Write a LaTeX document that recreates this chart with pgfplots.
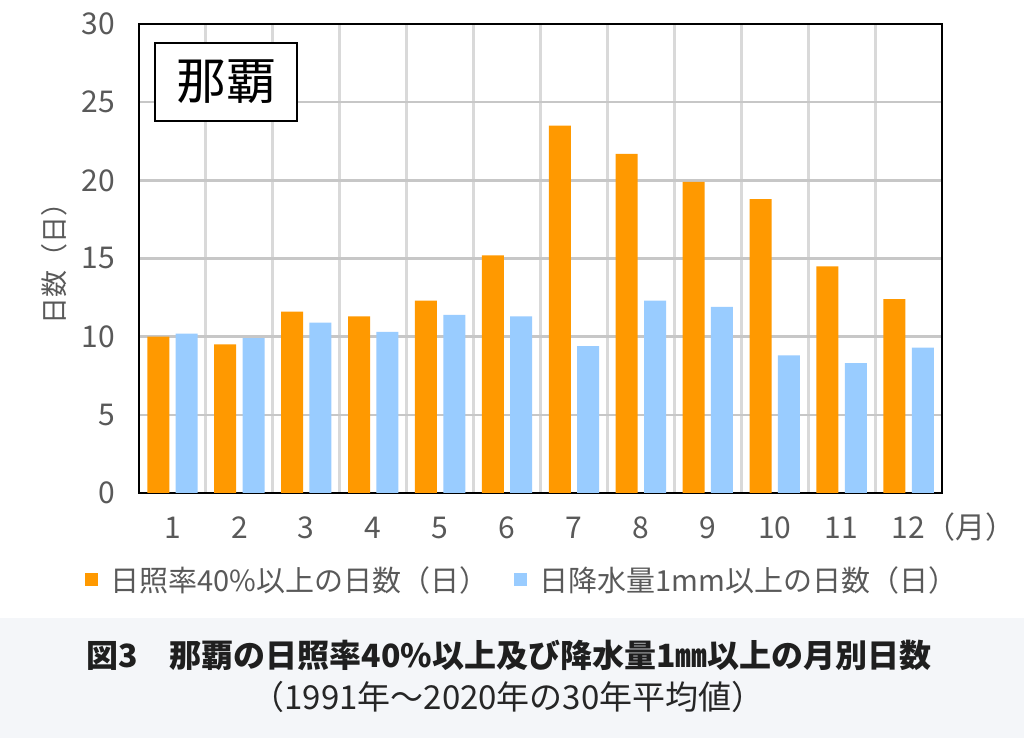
\documentclass[border=0pt]{standalone}
\usepackage{fontspec}
\usepackage{pgfplots}
\pgfplotsset{compat=1.18}
\setmainfont{Noto Sans CJK JP}
\definecolor{sun}{HTML}{FF9900}
\definecolor{rain}{HTML}{99CCFF}
\definecolor{lbl}{HTML}{595959}
\definecolor{band}{HTML}{F4F6F9}
\begin{document}
\begin{tikzpicture}
\useasboundingbox (0,0) rectangle (1024bp,738bp);
\fill[white] (0,0) rectangle (1024bp,738bp);
\fill[band] (0,0) rectangle (1024bp,120bp);
\begin{axis}[
    at={(139bp,245bp)}, anchor=south west,
    scale only axis, width=803bp, height=469bp,
    ybar=6.4bp, bar width=22bp,
    xmin=0.5, xmax=12.5, ymin=0, ymax=30,
    xtick={1,...,12},
    xticklabels={1,2,3,4,5,6,7,8,9,10,11,{12\rlap{\smash{（月）}}}},
    minor xtick={1.5,2.5,...,11.5},
    ytick={0,5,...,30},
    major tick length=0pt, minor tick length=0pt,
    ymajorgrids, xminorgrids,
    major grid style={draw=black!22, line width=2.5bp},
    minor grid style={draw=black!15, line width=3bp},
    axis line style={line width=2bp, black},
    /pgf/number format/assume math mode=true,
    tick label style={font=\fontsize{30bp}{36bp}\selectfont, text=lbl, inner sep=0pt},
    xticklabel shift=24bp, yticklabel shift=24bp,
    ylabel={日数（日）},
    ylabel style={at={(axis description cs:-0.106,0.503)}, anchor=center,
        font=\fontsize{27bp}{30bp}\selectfont, text=lbl},
    legend columns=2,
    legend style={at={(axis description cs:-0.067,-0.1855)}, anchor=west,
        draw=none, fill=none, inner sep=0pt,
        nodes={inner sep=0pt},
        font=\fontsize{29bp}{32bp}\selectfont, text=lbl,
        /tikz/every odd column/.append style={column sep=12bp},
        /tikz/every even column/.append style={column sep=26bp}},
    legend image code/.code={\fill[#1] (0bp,-6.5bp) rectangle (13bp,6.5bp);},
]
\addplot[fill=sun, draw=none] coordinates {
    (1,10.0) (2,9.5) (3,11.6) (4,11.3) (5,12.3) (6,15.2)
    (7,23.5) (8,21.7) (9,19.9) (10,18.8) (11,14.5) (12,12.4)};
\addlegendentry{日照率40\%以上の日数（日）}
\addplot[fill=rain, draw=none] coordinates {
    (1,10.2) (2,9.9) (3,10.9) (4,10.3) (5,11.4) (6,11.3)
    (7,9.4) (8,12.3) (9,11.9) (10,8.8) (11,8.3) (12,9.3)};
\addlegendentry{日降水量1mm以上の日数（日）}
\end{axis}
\node[draw=black, fill=white, line width=2bp, minimum width=142bp, minimum height=78bp,
    inner sep=0pt, font=\fontsize{50bp}{50bp}\selectfont] at (226bp,656bp) {那覇};
\node[font=\bfseries\fontsize{32bp}{36bp}\selectfont, text=black!88] at (509bp,83bp)
    {図3　那覇の日照率40\%以上及び降水量1㎜以上の月別日数};
\node[font=\fontsize{33bp}{36bp}\selectfont, text=black!85] at (508bp,41bp)
    {（1991年～2020年の30年平均値）};
\end{tikzpicture}
\end{document}
